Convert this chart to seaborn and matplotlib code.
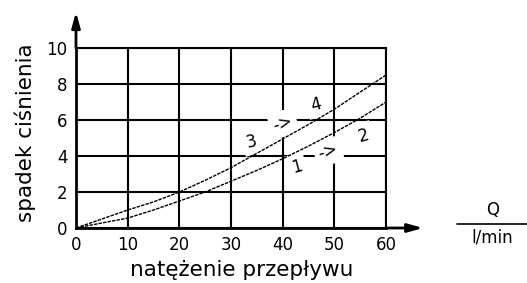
import pandas as pd
import matplotlib.pyplot as plt
import seaborn as sns
from matplotlib.lines import Line2D

# values
flow = [0, 5, 10, 15, 20, 25, 30, 35, 40, 45, 50, 55, 60]
drop_3_4 = [0, 0.5, 1.0, 1.45, 2.0, 2.65, 3.35, 4.15, 4.95, 5.75, 6.6, 7.55, 8.5]
drop_1_2 = [0, 0.28, 0.55, 1.0, 1.5, 2.0, 2.6, 3.2, 3.85, 4.55, 5.3, 6.1, 7.0]
x_ticks = [0, 10, 20, 30, 40, 50, 60]
y_ticks = [0, 2, 4, 6, 8, 10]

df = pd.DataFrame({"Q": flow + flow,
                   "dp": drop_3_4 + drop_1_2,
                   "kierunek": ["3 -> 4"] * len(flow) + ["1 -> 2"] * len(flow)})

sns.set_style("white")
plt.rcParams['font.family'] = ['DejaVu Sans']
plt.rcParams.update({"text.color": "black", "axes.labelcolor": "black",
                     "xtick.color": "black", "ytick.color": "black"})

fig = plt.figure(figsize=(5.27, 2.83), dpi=100)
ax = fig.add_axes([0.1442, 0.1943, 0.5882, 0.6360])

sns.lineplot(data=df, x="Q", y="dp", units="kierunek", estimator=None,
             color="black", lw=1.0, ax=ax)
for line in ax.lines:
    line.set_linestyle((0, (2.5, 0.8)))

ax.set_xlim(0, 60)
ax.set_ylim(0, 10)
ax.set_xticks(x_ticks)
ax.set_yticks(y_ticks)
ax.grid(True, color="black", lw=1.5)
ax.tick_params(length=0, labelsize=12, pad=6)
for s in ax.spines.values():
    s.set_color("black")
    s.set_linewidth(1.5)
ax.spines["left"].set_linewidth(2)
ax.spines["bottom"].set_linewidth(2)

ax.set_xlabel("natężenie przepływu", fontsize=15.5)
ax.set_ylabel("spadek ciśnienia", fontsize=15.5)
ax.xaxis.set_label_coords(0.535, -0.175)
ax.yaxis.set_label_coords(-0.13, 0.53)

# labels on the curves, white boxes break the grid
box = dict(facecolor="white", edgecolor="none", pad=3)
for x, y, t in [(34.0, 4.8, "3"), (40.1, 5.8, "->"), (46.4, 6.85, "4"),
                (42.7, 3.4, "1"), (48.8, 4.25, "->"), (55.6, 5.15, "2")]:
    ax.text(x, y, t, fontsize=12, ha="center", va="center",
            rotation=15, bbox=box, zorder=1)
for line in ax.lines:
    line.set_zorder(3)

# axis arrows
arrow = dict(arrowstyle="-|>,head_length=0.9,head_width=0.25", color="black",
             lw=2, mutation_scale=10, shrinkA=0, shrinkB=0)
ax.annotate("", xy=(0, 1.2), xytext=(0, 1.0), xycoords="axes fraction",
            arrowprops=arrow, annotation_clip=False)
ax.annotate("", xy=(1.12, 0), xytext=(1.0, 0), xycoords="axes fraction",
            arrowprops=arrow, annotation_clip=False)

# unit fraction
fig.text(0.935, 0.258, "Q", fontsize=12, ha="center", va="center")
fig.add_artist(Line2D([0.867, 1.0], [0.208, 0.208], color="black", lw=1.2))
fig.text(0.933, 0.160, "l/min", fontsize=12, ha="center", va="center")

fig.savefig("out.png", dpi=100)
